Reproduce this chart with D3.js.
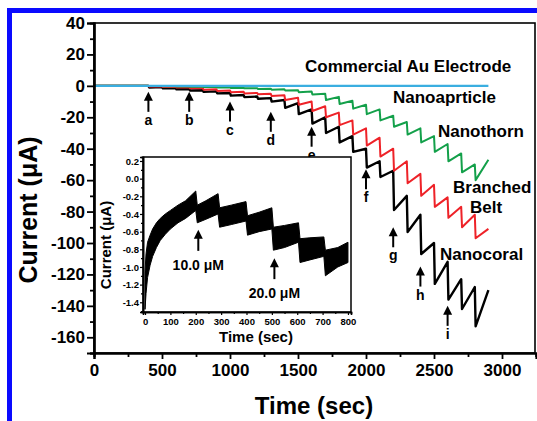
<!DOCTYPE html>
<html lang="en">
<head>
<meta charset="UTF-8">
<title>Amperometric response of Au nanostructures</title>
<script src="https://d3js.org/d3.v7.min.js"></script>
<style>
  body { margin: 0; background: #fff; }
  svg { display: block; font-family: "Liberation Sans", Arial, sans-serif; font-weight: bold; }
</style>
</head>
<body>
<svg id="chart" width="537" height="421"></svg>
<script>
  // ---- data ----
  // successive additions, every 100 s
  const injTimes = [400,500,600,700,800,900,1000,1100,1200,1300,1400,1500,1600,1700,1800,1900,2000,2100,2200,2300,2400,2500,2600,2700,2800];
  const endTime = 2900;

  // value right after each addition / value just before the next one (uA)
  const coralDrop = [-1.0,-1.6,-2.2,-3.0,-3.8,-4.8,-6.2,-7.2,-8.2,-10,-14,-18,-24,-30,-36,-42,-52,-58,-79,-93,-107,-126,-136,-142,-153];
  const coralRest = [-0.8,-1.4,-2.0,-2.8,-3.5,-4.5,-5.8,-6.8,-7.8,-9,-11,-15,-20,-26,-32,-40,-48,-54,-70,-82,-100,-112,-123,-128,-130];

  const beltDrop = [-0.4,-0.7,-1.1,-1.6,-2.4,-3.2,-4.0,-4.8,-5.4,-6.5,-9,-12,-16,-20,-25,-31,-38,-45,-54,-62,-70,-77,-84,-90,-97];
  const beltRest = [-0.3,-0.6,-1.0,-1.5,-2.2,-3.0,-3.8,-4.5,-5.0,-6.0,-7.5,-10,-13,-17,-22,-27,-33,-40,-48,-56,-63,-71,-77,-82,-91];

  const thornDrop = [-0.1,-0.2,-0.4,-0.6,-0.8,-1.0,-1.3,-1.6,-2.0,-2.4,-3.0,-4.0,-5.5,-9,-11.5,-14.5,-18,-22,-26,-31,-36,-42,-48,-55,-60];
  const thornRest = [-0.1,-0.2,-0.3,-0.5,-0.7,-0.9,-1.2,-1.5,-1.8,-2.2,-2.8,-3.6,-5.0,-7,-9.5,-12,-15,-19,-23,-27,-32,-37,-43,-50,-47];

  const commercial = [[0, 0], [2900, 0]];

  // arrows a..i : time and tip current
  const arrowLetters = ["a","b","c","d","e","f","g","h","i"];
  const arrowTimes = [400,700,1000,1300,1600,2000,2200,2400,2600];
  const arrowTips = [-3.8,-3.8,-10,-16.5,-26,-53,-90,-115,-140];

  // inset: noisy band (upper / lower envelope)
  const insetT   = [0,4,10,20,30,45,60,80,100,130,160,200,206,240,288,294,340,398,404,450,500,506,550,605,611,650,705,711,760,800];
  const insetTop = [-1.05,-0.85,-0.72,-0.64,-0.57,-0.5,-0.45,-0.4,-0.36,-0.3,-0.25,-0.14,-0.3,-0.25,-0.17,-0.33,-0.3,-0.26,-0.42,-0.38,-0.33,-0.55,-0.53,-0.5,-0.68,-0.67,-0.66,-0.81,-0.78,-0.72];
  const insetBot = [-1.48,-1.3,-1.12,-0.98,-0.88,-0.78,-0.7,-0.63,-0.57,-0.5,-0.45,-0.36,-0.5,-0.46,-0.4,-0.55,-0.52,-0.48,-0.64,-0.6,-0.57,-0.81,-0.78,-0.72,-0.95,-0.92,-0.88,-1.1,-1.0,-0.95];
  const insetArrowLabels = ["10.0 \u03bcM", "20.0 \u03bcM"];
  const insetArrowTimes = [210, 510];
  const insetArrowTips = [-0.58, -0.9];

  // ---- drawing ----
  const svg = d3.select("#chart");
  svg.append("rect").attr("width", 537).attr("height", 421).attr("fill", "#fff");

  // blue frame
  svg.append("rect")
    .attr("x", 9.5).attr("y", 10.5).attr("width", 700).attr("height", 600)
    .attr("fill", "none").attr("stroke", "#0a0aff").attr("stroke-width", 5);

  const x = d3.scaleLinear().domain([0, 3250]).range([94, 536]);
  const y = d3.scaleLinear().domain([-170, 40]).range([353, 23]);

  function sawtooth(drop, rest) {
    const pts = [[0, 0]];
    injTimes.forEach((t, i) => {
      pts.push([t, i ? rest[i - 1] : 0]);
      pts.push([t + 6, drop[i]]);
    });
    pts.push([endTime, rest[rest.length - 1]]);
    return pts;
  }

  const line = d3.line().x(d => x(d[0])).y(d => y(d[1]));

  const series = [
    { pts: sawtooth(coralDrop, coralRest), color: "#000", w: 2.4 },
    { pts: sawtooth(beltDrop, beltRest), color: "#ee2228", w: 2 },
    { pts: sawtooth(thornDrop, thornRest), color: "#13a04a", w: 2 },
    { pts: commercial, color: "#3aaee0", w: 2.2 }
  ];
  series.forEach(s => {
    svg.append("path").attr("d", line(s.pts))
      .attr("fill", "none").attr("stroke", s.color)
      .attr("stroke-width", s.w).attr("stroke-linejoin", "round");
  });

  // frame + axes
  svg.append("rect")
    .attr("x", x(0)).attr("y", y(40))
    .attr("width", x(3250) - x(0) - 1).attr("height", y(-170) - y(40))
    .attr("fill", "none").attr("stroke", "#000").attr("stroke-width", 1.6);

  const xAxis = svg.append("g").attr("transform", `translate(0,${y(-170)})`)
    .call(d3.axisBottom(x).tickValues(d3.range(0, 3001, 500)).tickSize(6).tickPadding(5)
      .tickFormat(d3.format("d")));
  svg.append("g").attr("transform", `translate(0,${y(-170)})`)
    .call(d3.axisBottom(x).tickValues(d3.range(250, 3251, 500)).tickSize(4).tickFormat(""));
  const yAxis = svg.append("g").attr("transform", `translate(${x(0)},0)`)
    .call(d3.axisLeft(y).tickValues(d3.range(-160, 41, 20)).tickSize(7).tickPadding(2));
  svg.append("g").attr("transform", `translate(${x(0)},0)`)
    .call(d3.axisLeft(y).tickValues(d3.range(-170, 41, 20)).tickSize(4).tickFormat(""));

  svg.selectAll(".domain").attr("stroke-width", 2.2);
  svg.selectAll(".tick line").attr("stroke-width", 1.8);
  xAxis.selectAll("text").attr("font-size", 17).attr("font-family", "Liberation Sans").attr("font-weight", "bold");
  yAxis.selectAll("text").attr("font-size", 17).attr("font-family", "Liberation Sans").attr("font-weight", "bold")
    .text(d => String(d));

  svg.append("text").attr("x", 314).attr("y", 414).attr("text-anchor", "middle")
    .attr("font-size", 24).text("Time (sec)");
  svg.append("text").attr("transform", "translate(37,210) rotate(-90)")
    .attr("text-anchor", "middle").attr("font-size", 25).text("Current (\u03bcA)");

  // curve labels
  const labels = [
    ["Commercial Au Electrode", 305, 72],
    ["Nanoaprticle", 393, 103],
    ["Nanothorn", 438, 137],
    ["Branched", 453, 193],
    ["Belt", 470, 213],
    ["Nanocoral", 440, 260]
  ];
  labels.forEach(l => {
    svg.append("text").attr("x", l[1]).attr("y", l[2]).attr("font-size", 17).text(l[0]);
  });

  function arrow(g, px, tipY, len) {
    g.append("path")
      .attr("d", `M${px},${tipY} L${px - 4.5},${tipY + 9} L${px + 4.5},${tipY + 9} Z`)
      .attr("fill", "#000");
    g.append("line").attr("x1", px).attr("x2", px)
      .attr("y1", tipY + 8).attr("y2", tipY + len)
      .attr("stroke", "#000").attr("stroke-width", 2);
  }

  arrowLetters.forEach((c, i) => {
    const px = x(arrowTimes[i]), ty = y(arrowTips[i]);
    arrow(svg, px, ty, 20);
    svg.append("text").attr("x", px).attr("y", ty + 33).attr("text-anchor", "middle")
      .attr("font-size", 14).text(c);
  });

  // ---- inset ----
  const xi = d3.scaleLinear().domain([-8, 812]).range([143, 351]);
  const yi = d3.scaleLinear().domain([-1.51, 0.245]).range([312, 157]);
  const inset = svg.append("g");
  inset.append("rect").attr("x", xi(-8)).attr("y", yi(0.245))
    .attr("width", xi(812) - xi(-8)).attr("height", yi(-1.51) - yi(0.245))
    .attr("fill", "#fff").attr("stroke", "#000").attr("stroke-width", 1.5);

  const band = insetT.map((t, i) => [t, insetTop[i], insetBot[i]]);
  inset.append("path")
    .attr("d", d3.area().x(d => xi(d[0])).y0(d => yi(d[2])).y1(d => yi(d[1]))(band))
    .attr("fill", "#000").attr("stroke", "#000").attr("stroke-width", 1);

  const ixAxis = inset.append("g").attr("transform", `translate(0,${yi(-1.51)})`)
    .call(d3.axisBottom(xi).tickValues(d3.range(0, 801, 100)).tickSize(3).tickPadding(3));
  inset.append("g").attr("transform", `translate(0,${yi(-1.51)})`)
    .call(d3.axisBottom(xi).tickValues(d3.range(50, 801, 100)).tickSize(2).tickFormat(""));
  const iyAxis = inset.append("g").attr("transform", `translate(${xi(-8)},0)`)
    .call(d3.axisLeft(yi).tickValues(d3.range(-1.4, 0.21, 0.2)).tickSize(3).tickPadding(1));
  inset.append("g").attr("transform", `translate(${xi(-8)},0)`)
    .call(d3.axisLeft(yi).tickValues(d3.range(-1.5, 0.21, 0.2)).tickSize(2).tickFormat(""));
  inset.selectAll(".domain").attr("stroke-width", 1.6);
  inset.selectAll(".tick line").attr("stroke-width", 1.2);
  ixAxis.selectAll("text").attr("font-size", 9.5).attr("font-family", "Liberation Sans").attr("font-weight", "bold");
  iyAxis.selectAll("text").attr("font-size", 9.5).attr("font-family", "Liberation Sans").attr("font-weight", "bold")
    .text(d => (Math.abs(d) < 1e-9 ? 0 : d).toFixed(1));

  inset.append("text").attr("x", 256).attr("y", 342).attr("text-anchor", "middle")
    .attr("font-size", 15).text("Time (sec)");
  inset.append("text").attr("transform", "translate(111,245) rotate(-90)")
    .attr("text-anchor", "middle").attr("font-size", 15).text("Current (\u03bcA)");

  insetArrowLabels.forEach((lab, i) => {
    const px = xi(insetArrowTimes[i]), ty = yi(insetArrowTips[i]);
    arrow(inset, px, ty, 21);
    inset.append("text").attr("x", px).attr("y", ty + 40).attr("text-anchor", "middle")
      .attr("font-size", 14).text(lab);
  });
</script>
</body>
</html>
